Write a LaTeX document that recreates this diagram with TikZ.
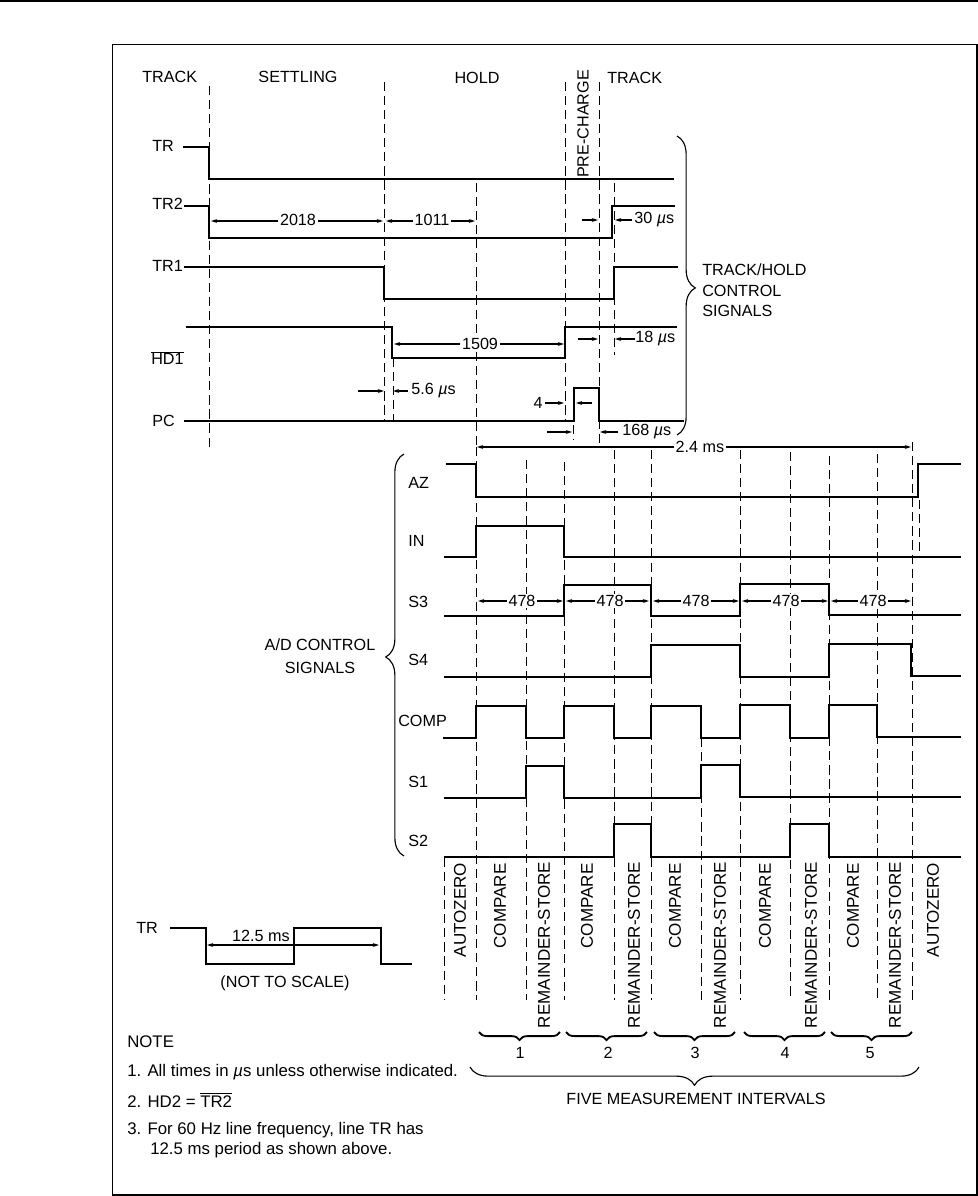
\documentclass[tikz,border=0pt]{standalone}
\usepackage{fontspec}
\setmainfont{Liberation Sans}
\usepackage{tikz}
\usetikzlibrary{arrows.meta,decorations.pathreplacing}

\begin{document}
\begin{tikzpicture}[x=0.025cm, y=-0.025cm, >={Stealth[length=4.5pt,width=2.8pt]}, line join=miter,
    font=\fontsize{11.5}{14}\selectfont,
    sig/.style={line width=1.7pt},
    phase/.style={line width=0.7pt, dash pattern=on 6.5pt off 3.5pt},
    dim/.style={line width=0.8pt},
    lbl/.style={anchor=west, inner sep=0pt},
    ctr/.style={inner sep=0pt},
    vert/.style={rotate=90, inner sep=0pt},
    phs/.style={rotate=90, inner sep=0pt, font=\fontsize{12.1}{14}\selectfont},
    notetext/.style={anchor=west, inner sep=0pt, font=\fontsize{11.95}{14}\selectfont},
    val/.style={inner sep=1.2pt, fill=white},
    bigbrace/.style={line width=0.8pt, decorate, decoration={brace, amplitude=13pt, aspect=#1}},
    subbrace/.style={line width=1.3pt, decorate, decoration={brace, amplitude=5.8pt}}]
  \useasboundingbox (0,0) rectangle (978,1196);
  % page rules and frame
  \draw[line width=1.6pt] (0,1) -- (978,1);
  \draw[line width=0.7pt] (112,1195) -- (112,44) -- (977,44);
  \draw[line width=1.6pt] (112,1195) -- (977,1195) -- (977,44);
  % track/hold phase lines
  \draw[phase] (209,86) -- (209,448);
  \draw[phase] (384,82) -- (384,420);
  \draw[phase] (393,358) -- (393,421);
  \draw[phase] (476,183) -- (476,447);
  \draw[phase] (565,82) -- (565,421);
  \draw[phase] (573,425) -- (573,440);
  \draw[phase] (599,82) -- (599,443);
  \draw[phase] (614,183) -- (614,355);
  % A/D phase lines
  \draw[phase] (444,858) -- (444,1000);
  \draw[phase] (476,447) -- (476,1000);
  \draw[phase] (526,460) -- (526,1000);
  \draw[phase] (564,462) -- (564,1000);
  \draw[phase] (614,450) -- (614,1000);
  \draw[phase] (651,450) -- (651,1000);
  \draw[phase] (701,738) -- (701,1000);
  \draw[phase] (740,450) -- (740,1000);
  \draw[phase] (790,452) -- (790,1000);
  \draw[phase] (829,456) -- (829,1000);
  \draw[phase] (877,454) -- (877,1000);
  \draw[phase] (912,442) -- (912,1000);
  \draw[phase] (919,500) -- (919,553);
  % track/hold signals
  \draw[sig] (183,147) -- (209,147) -- (209,179) -- (674,179);
  \draw[sig] (184,206) -- (209,206) -- (209,238) -- (612,238) -- (612,206) -- (675,206);
  \draw[sig] (184,267) -- (384,267) -- (384,299) -- (614,299) -- (614,267) -- (678,267);
  \draw[sig] (186,327) -- (392,327) -- (392,358) -- (565,358) -- (565,327) -- (677,327);
  \draw[sig] (184,421) -- (574,421) -- (574,388) -- (599,388) -- (599,421) -- (684,421);
  % A/D signals
  \draw[sig] (446,464) -- (476,464) -- (476,497) -- (918,497) -- (918,464) -- (961,464);
  \draw[sig] (444,557) -- (476,557) -- (476,526) -- (564,526) -- (564,557) -- (961,557);
  \draw[sig] (444,616) -- (564,616) -- (564,585) -- (651,585) -- (651,616) -- (740,616) -- (740,584) -- (829,584) -- (829,615) -- (961,615);
  \draw[sig] (444,677) -- (651,677) -- (651,645) -- (740,645) -- (740,677) -- (829,677) -- (829,644) -- (911,644) -- (911,676) -- (961,676);
  \draw[sig] (443,738) -- (476,738) -- (476,706) -- (526,706) -- (526,738) -- (564,738) -- (564,706) -- (614,706) -- (614,738) -- (651,738) -- (651,706) -- (701,706) -- (701,738) -- (740,738) -- (740,705) -- (790,705) -- (790,738) -- (829,738) -- (829,705) -- (877,705) -- (877,737) -- (961,737);
  \draw[sig] (444,798) -- (526,798) -- (526,766) -- (564,766) -- (564,798) -- (701,798) -- (701,765) -- (740,765) -- (740,797) -- (961,797);
  \draw[sig] (444,857) -- (614,857) -- (614,824) -- (651,824) -- (651,857) -- (790,857) -- (790,824) -- (829,824) -- (829,857) -- (961,857);
  % period sketch
  \draw[sig] (170,928) -- (206,928) -- (206,964) -- (294,964) -- (294,928) -- (381,928) -- (381,964) -- (412,964);
  \draw[<->,dim] (207,945) -- (379,945);
  % header labels
  \node[lbl] (trackA) at (142,77) {TRACK};
  \node[ctr] (settling) at (298,77) {SETTLING};
  \node[ctr] (hold) at (477,78) {HOLD};
  \node[vert] (precharge) at (583,124) {PRE-CHARGE};
  \node[lbl] (trackB) at (607,78) {TRACK};
  % signal names
  \node[lbl] (nameTR) at (152,146) {TR};
  \node[lbl] (nameTRtwo) at (152,204) {TR2};
  \node[lbl] (nameTRone) at (152,266) {TR1};
  \node[lbl] (nameHD) at (151,358) {$\overline{\mbox{HD1}}$};
  \node[lbl] (namePC) at (152,421) {PC};
  \node[lbl] (nameAZ) at (408,483) {AZ};
  \node[lbl] (nameIN) at (408,541) {IN};
  \node[lbl] (nameSthree) at (408,602) {S3};
  \node[lbl] (nameSfour) at (408,660) {S4};
  \node[lbl] (nameCOMP) at (398,721) {COMP};
  \node[lbl] (nameSone) at (408,782) {S1};
  \node[lbl] (nameStwo) at (408,841) {S2};
  % timing values
  \draw[<->,dim] (211,221) -- (383,221);
  \node[val] (valA) at (298,220) {2018};
  \draw[<->,dim] (386,221) -- (475,221);
  \node[val] (valB) at (432,220) {1011};
  \draw[->,dim] (582,220) -- (598,220);
  \draw[->,dim] (632,220) -- (615,220);
  \node[lbl] (valC) at (634,220) {30 \textit{µ}s};
  \draw[<->,dim] (394,344) -- (564,344);
  \node[val] (valD) at (480,344) {1509};
  \draw[->,dim] (578,339) -- (598,339);
  \draw[->,dim] (635,339) -- (615,339);
  \node[lbl] (valE) at (635,339) {18 \textit{µ}s};
  \draw[->,dim] (358,391) -- (384,391);
  \draw[->,dim] (408,391) -- (393,391);
  \node[lbl] (valF) at (411,391) {5.6 \textit{µ}s};
  \node[ctr] (valG) at (538,403) {4};
  \draw[->,dim] (545,403) -- (564,403);
  \draw[->,dim] (592,403) -- (576,403);
  \draw[->,dim] (547,432) -- (572,432);
  \draw[->,dim] (618,432) -- (600,432);
  \node[lbl] (valH) at (622,432) {168 \textit{µ}s};
  \draw[<->,dim] (477,447) -- (911,447);
  \node[val] (valI) at (700,447) {2.4 ms};
  \draw[<->,dim] (478,601) -- (563,601);
  \node[val] (tA) at (522,601) {478};
  \draw[<->,dim] (566,601) -- (649,601);
  \node[val] (tB) at (610,601) {478};
  \draw[<->,dim] (653,601) -- (739,601);
  \node[val] (tC) at (696,601) {478};
  \draw[<->,dim] (742,601) -- (828,601);
  \node[val] (tD) at (786,601) {478};
  \draw[<->,dim] (831,601) -- (911,601);
  \node[val] (tE) at (873,601) {478};
  % group braces
  \draw[bigbrace=0.508] (677,136) -- (677,435);
  \node[lbl] (groupA) at (702,270) {TRACK/HOLD};
  \node[lbl] (groupB) at (702,291) {CONTROL};
  \node[lbl] (groupC) at (702,311) {SIGNALS};
  \draw[bigbrace=0.495] (404,856) -- (404,454);
  \node[ctr] (adA) at (320,645) {A/D CONTROL};
  \node[ctr] (adB) at (320,668) {SIGNALS};
  % measurement phases
  \node[phs] (phA) at (460,910) {AUTOZERO};
  \node[phs] (phB) at (500,906) {COMPARE};
  \node[phs] (phC) at (544,945) {REMAINDER-STORE};
  \node[phs] (phD) at (587,906) {COMPARE};
  \node[phs] (phE) at (634,945) {REMAINDER-STORE};
  \node[phs] (phF) at (675,906) {COMPARE};
  \node[phs] (phG) at (720,945) {REMAINDER-STORE};
  \node[phs] (phH) at (765,906) {COMPARE};
  \node[phs] (phI) at (811,945) {REMAINDER-STORE};
  \node[phs] (phJ) at (853,906) {COMPARE};
  \node[phs] (phK) at (895,945) {REMAINDER-STORE};
  \node[phs] (phL) at (933,910) {AUTOZERO};
  \draw[subbrace] (560,1032) -- (479,1032);
  \draw[subbrace] (647,1032) -- (566,1032);
  \draw[subbrace] (735,1032) -- (654,1032);
  \draw[subbrace] (825,1032) -- (744,1032);
  \draw[subbrace] (912,1032) -- (831,1032);
  \node[ctr] (numA) at (520,1053) {1};
  \node[ctr] (numB) at (608,1053) {2};
  \node[ctr] (numC) at (695,1053) {3};
  \node[ctr] (numD) at (785,1053) {4};
  \node[ctr] (numE) at (870,1053) {5};
  \draw[bigbrace=0.5] (919,1067) -- (470,1067);
  \node[ctr] (five) at (696,1099) {FIVE MEASUREMENT INTERVALS};
  % period sketch labels
  \node[lbl] (nameTRb) at (136,928) {TR};
  \node[ctr] (period) at (261,936) {12.5 ms};
  \node[ctr] (scale) at (285,983) {(NOT TO SCALE)};
  % notes
  \node[notetext] (note) at (127,1042) {NOTE};
  \node[notetext] (noteA) at (127,1072) {1. All times in \textit{µ}s unless otherwise indicated.};
  \node[notetext] (noteB) at (127,1100) {2. HD2 = $\overline{\mbox{TR2}}$};
  \node[notetext] (noteC) at (127,1130) {3. For 60 Hz line frequency, line TR has};
  \node[notetext] (noteD) at (150,1150) {12.5 ms period as shown above.};
\end{tikzpicture}
\end{document}
